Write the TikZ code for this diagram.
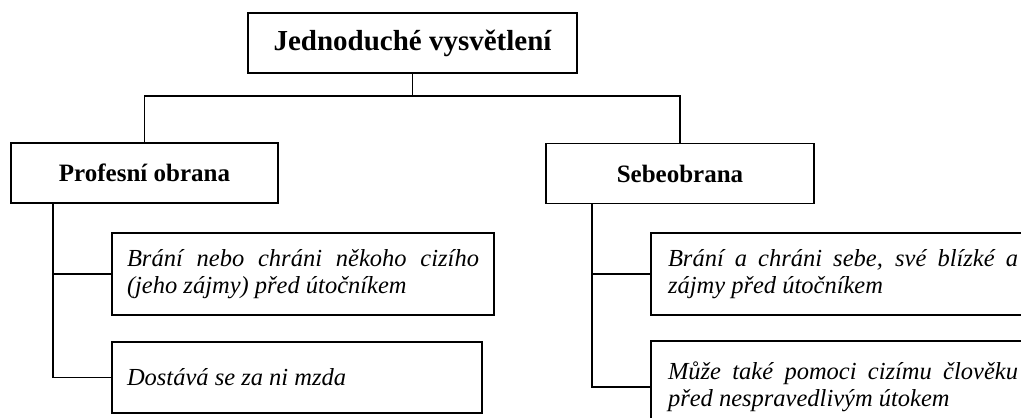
\documentclass[tikz,border=0pt]{standalone}
\usepackage{fontspec}
\setmainfont{Liberation Serif}
\begin{document}
\begin{tikzpicture}[x=1pt,y=-1pt,
  box/.style={draw=black, line width=1.6pt, rectangle, inner sep=0pt, text=black},
  head/.style={box, font=\bfseries\fontsize{25}{28}\selectfont, align=center},
  item/.style={box, font=\itshape\fontsize{24.5}{27}\selectfont, text width=352pt, align=justify},
  link/.style={draw=black, line width=1.6pt}]
\useasboundingbox (0,0) rectangle (1021,418);
\clip (0,0) rectangle (1021,418);
\fill[white] (0,0) rectangle (1021,418);
\node[box, font=\bfseries\fontsize{29}{32}\selectfont, minimum width=329pt, minimum height=60pt] (top) at (412.5,43) {Jednoduché vysvětlení};
\node[head, minimum width=267pt, minimum height=60pt] (prof) at (144.5,173) {Profesní obrana};
\node[head, minimum width=268pt, minimum height=60pt] (sebe) at (680,173.5) {Sebeobrana};
\node[item, minimum width=382pt, minimum height=82pt] (l1) at (303,274) {Brání nebo chráni někoho cizího (jeho zájmy) před útočníkem};
\node[item, minimum width=370pt, minimum height=71pt, text width=340pt] (l2) at (297,377.5) {Dostává se za ni mzda};
\node[item, minimum width=384pt, minimum height=82pt, text width=350pt] (r1) at (843,274) {Brání a chráni sebe, své blízké a zájmy před útočníkem};
\node[item, minimum width=384pt, minimum height=92pt, text width=350pt] (r2) at (843,387) {Může také pomoci cizímu člověku před nespravedlivým útokem};
\coordinate (bus) at (412.5,96);
\coordinate (ls) at (53,203);
\coordinate (rs) at (592,203);
\draw[link] (top.south) -- (bus);
\draw[link] (prof.north) |- (bus) -| (sebe.north);
\draw[link] (ls) |- (l1.west);
\draw[link] (ls) |- (l2.west);
\draw[link] (rs) |- (r1.west);
\draw[link] (rs) |- (r2.west);
\end{tikzpicture}
\end{document}
